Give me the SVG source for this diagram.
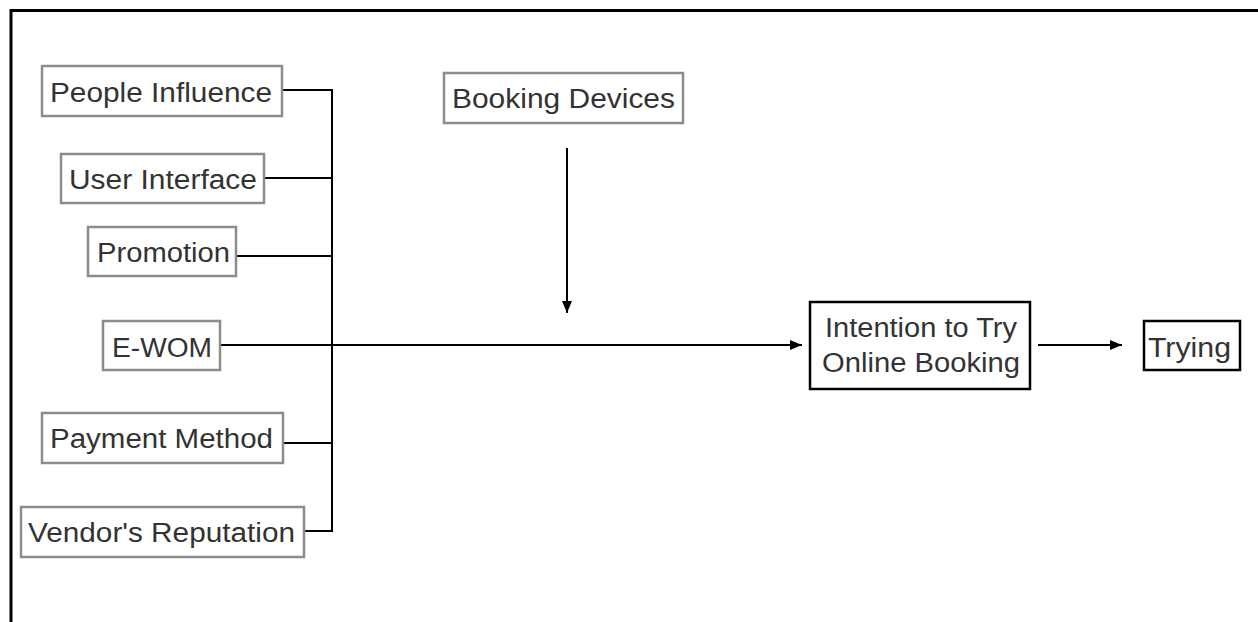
<svg xmlns="http://www.w3.org/2000/svg" width="1258" height="622" viewBox="0 0 1258 622">
  <defs>
    <marker id="arrow" viewBox="0 0 12 10" refX="12" refY="5" markerWidth="12" markerHeight="10" markerUnits="userSpaceOnUse" orient="auto">
      <path d="M0,0 L12,5 L0,10 Z" fill="#000"/>
    </marker>
    <style>
      .factor rect { fill: #fff; stroke: #8c8c8c; stroke-width: 2.5; }
      .outcome rect { fill: #fff; stroke: #000; stroke-width: 2.5; }
      text { font-family: "Liberation Sans", Arial, sans-serif; font-size: 27px; fill: #333; text-anchor: middle; }
      .wire { fill: none; stroke: #000; stroke-width: 2; }
      .frame { fill: none; stroke: #000; stroke-width: 3; }
    </style>
  </defs>
  <rect width="1258" height="622" fill="#fff"/>

  <!-- outer frame (top and left edges) -->
  <path class="frame" d="M11,622 V10.5 H1258"/>

  <g id="connectors">
    <path class="wire" d="M282,90 H332 V531 H304"/>
    <path class="wire" d="M264,178 H332"/>
    <path class="wire" d="M236,256 H332"/>
    <path class="wire" d="M283,443 H332"/>
    <path class="wire" d="M220,345 H802" marker-end="url(#arrow)"/>
    <path class="wire" d="M567,148 V313" marker-end="url(#arrow)"/>
    <path class="wire" d="M1038,345 H1122" marker-end="url(#arrow)"/>
  </g>

  <g id="people-influence" class="factor">
    <rect x="42" y="66" width="240" height="50"/>
    <text x="161" y="102" textLength="222" lengthAdjust="spacingAndGlyphs">People Influence</text>
  </g>
  <g id="user-interface" class="factor">
    <rect x="61" y="154" width="203" height="49"/>
    <text x="163" y="189" textLength="188" lengthAdjust="spacingAndGlyphs">User Interface</text>
  </g>
  <g id="promotion" class="factor">
    <rect x="88" y="227" width="148" height="49"/>
    <text x="163.5" y="262" textLength="133" lengthAdjust="spacingAndGlyphs">Promotion</text>
  </g>
  <g id="e-wom" class="factor">
    <rect x="103" y="321" width="117" height="49"/>
    <text x="162" y="357" textLength="100" lengthAdjust="spacingAndGlyphs">E-WOM</text>
  </g>
  <g id="payment-method" class="factor">
    <rect x="42" y="413" width="241" height="50"/>
    <text x="161.5" y="448" textLength="223" lengthAdjust="spacingAndGlyphs">Payment Method</text>
  </g>
  <g id="vendors-reputation" class="factor">
    <rect x="21" y="507" width="283" height="50"/>
    <text x="161.5" y="542" textLength="267" lengthAdjust="spacingAndGlyphs">Vendor's Reputation</text>
  </g>
  <g id="booking-devices" class="factor">
    <rect x="444" y="73" width="239" height="50"/>
    <text x="563.5" y="108" textLength="223" lengthAdjust="spacingAndGlyphs">Booking Devices</text>
  </g>
  <g id="intention" class="outcome">
    <rect x="810" y="302" width="220" height="87"/>
    <text x="921" y="337" textLength="192" lengthAdjust="spacingAndGlyphs">Intention to Try</text>
    <text x="921" y="372" textLength="198" lengthAdjust="spacingAndGlyphs">Online Booking</text>
  </g>
  <g id="trying" class="outcome">
    <rect x="1144" y="321" width="96" height="49"/>
    <text x="1189.5" y="357" textLength="83" lengthAdjust="spacingAndGlyphs">Trying</text>
  </g>
</svg>
